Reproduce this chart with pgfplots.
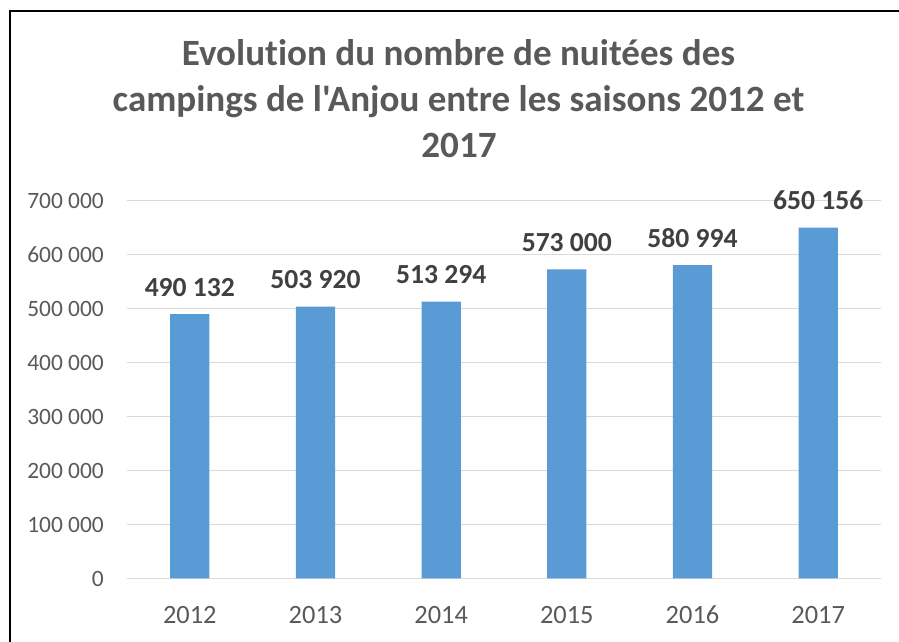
\documentclass[border=0pt]{standalone}
\usepackage{pgfplots}
\pgfplotsset{compat=1.18}
\usepackage{fontspec}
\setmainfont{Carlito}
\newfontfamily\titlefont{Carlito}[Ligatures={TeXOff,CommonOff}]
\definecolor{barblue}{HTML}{5B9BD5}
\definecolor{titlegray}{HTML}{595959}
\definecolor{labelgray}{HTML}{404040}
\definecolor{gridgray}{HTML}{D9D9D9}
\begin{document}
\begin{tikzpicture}[x=1bp,y=1bp]
\path[use as bounding box] (0,0) rectangle (899,642);
\draw[line width=1.8bp, black] (9.8,0) -- (9.8,631) -- (899,631);
\tikzset{ttl/.style={anchor=base, text=titlegray, font=\titlefont\fontsize{37.2}{40}\selectfont\bfseries, inner sep=0}}
\node[ttl] at (458.5,576) {Evolution du nombre de nuitées des};
\node[ttl] at (458.5,530) {campings de l'Anjou entre les saisons 2012 et};
\node[ttl] at (459,484.3) {2017};
\begin{axis}[
  at={(127bp,63.5bp)}, anchor=south west,
  scale only axis, width=754bp, height=377.7bp,
  xmin=-0.5, xmax=5.5, ymin=0, ymax=700000,
  axis line style={draw=none},
  major tick length=0pt,
  xtick=data,
  xticklabels={2012,2013,2014,2015,2016,2017},
  ytick={0,100000,200000,300000,400000,500000,600000,700000},
  yticklabels={0,100 000,200 000,300 000,400 000,500 000,600 000,700 000},
  scaled y ticks=false,
  ymajorgrids,
  grid style={gridgray, line width=1.3bp},
  xticklabel style={anchor=base, inner sep=0pt, yshift=-44.8bp, text=titlegray, font=\fontsize{26.5}{30}\selectfont},
  yticklabel style={anchor=east, inner sep=0pt, xshift=-23bp, text=titlegray, font=\fontsize{23.5}{28}\selectfont},
  /pgf/number format/assume math mode=true,
  clip=false,
]
\addplot[ybar, bar width=39.3bp, fill=barblue, draw=none,
  point meta=explicit symbolic,
  nodes near coords,
  every node near coord/.append style={anchor=base, inner sep=0pt, yshift=18bp, text=labelgray, font=\fontsize{27.7}{32}\selectfont\bfseries}]
coordinates {
(0,490132) [490 132]
(1,503920) [503 920]
(2,513294) [513 294]
(3,573000) [573 000]
(4,580994) [580 994]
(5,650156) [650 156]
};
\end{axis}
\end{tikzpicture}
\end{document}
